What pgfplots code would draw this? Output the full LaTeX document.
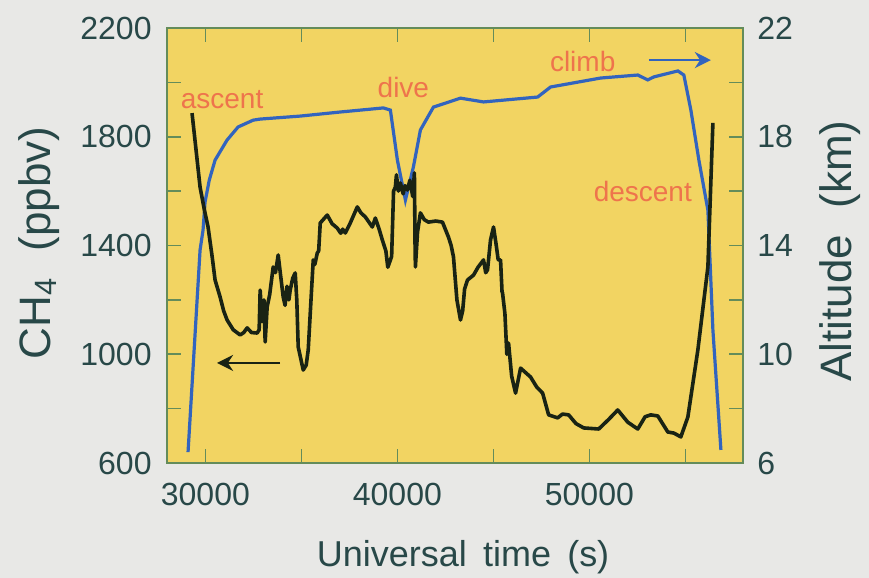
\documentclass[border=0pt]{standalone}
\usepackage{pgfplots}
\pgfplotsset{compat=1.18}
\usetikzlibrary{arrows.meta}
\usepackage{fontspec}
\setmainfont{Liberation Sans}
\definecolor{bg}{RGB}{232,232,230}
\definecolor{plotbg}{RGB}{242,212,98}
\definecolor{txt}{RGB}{40,72,72}
\definecolor{frame}{RGB}{100,140,90}
\definecolor{ann}{RGB}{238,116,76}
\definecolor{ch4}{RGB}{25,35,20}
\definecolor{alt}{RGB}{50,100,190}
\begin{document}
\begin{tikzpicture}
\path[use as bounding box, fill=bg] (-83.5pt,-57.5pt) rectangle (351pt,231.5pt);
\pgfplotsset{every axis/.append style={
  scale only axis, width=288pt, height=217.5pt,
  xmin=28000, xmax=58000,
  scaled x ticks=false, scaled y ticks=false,
  tick align=inside, major tick length=7pt,
  axis line style={frame, line width=0.8pt},
  tick style={frame, line width=0.8pt},
  tick label style={font=\fontsize{16}{16}\selectfont, text=txt},
}}
% altitude axis (drawn first, with background)
\begin{axis}[
  ymin=6, ymax=22,
  ytick={6,8,...,22}, yticklabels={6,,10,,14,,18,,22},
  ytick pos=right, yticklabel pos=right,
  xtick=\empty,
  axis background/.style={fill=plotbg},
  yticklabel style={anchor=west, inner sep=0pt, xshift=7pt},
  ylabel={Altitude\hspace{0.6em}(km)},
  every axis y label/.style={at={(axis description cs:1.189,0.487)}, anchor=base, rotate=90, font=\fontsize{22}{22}\selectfont, text=txt},
]
\addplot[alt, line width=1.6pt] coordinates {
(29096,6.4) (29400,10.0) (29722,13.83) (29878,14.57) (29982,15.60) (30200,16.4)
(30504,17.14) (31130,17.88) (31704,18.36) (32487,18.61) (32852,18.65) (34939,18.76)
(37026,18.91) (39270,19.06) (39635,18.98) (40000,17.14) (40417,15.67) (40834,16.89)
(41199,18.25) (41877,19.09) (43285,19.42) (44485,19.28) (47303,19.46) (47981,19.83)
(50590,20.16) (52520,20.27) (53042,20.09) (53355,20.20) (54607,20.42) (54920,20.27)
(55285,18.98) (55703,17.14) (56172,15.30) (56433,10.89) (56850,6.48)
};
\end{axis}
% CH4 axis
\begin{axis}[
  ymin=600, ymax=2200,
  ytick={600,800,...,2200}, yticklabels={600,,1000,,1400,,1800,,2200},
  ytick pos=left, yticklabel pos=left,
  xtick={30000,35000,...,55000}, xticklabels={30000,,40000,,50000,},
  xtick pos=both, xticklabel pos=lower,
  yticklabel style={anchor=east, inner sep=0pt, xshift=-7.5pt},
  xticklabel style={anchor=north, inner sep=0pt, yshift=-10pt},
  xlabel={Universal\hspace{0.45em}time\hspace{0.45em}(s)},
  ylabel={CH\textsubscript{4}\hspace{0.6em}(ppbv)},
  every axis x label/.style={at={(axis description cs:0.514,-0.239)}, anchor=base, font=\fontsize{18}{18}\selectfont, text=txt},
  every axis y label/.style={at={(axis description cs:-0.203,0.506)}, anchor=base, rotate=90, font=\fontsize{22}{22}\selectfont, text=txt},
]
\addplot[ch4, line width=1.8pt, line join=round] coordinates {
(29304,1887) (29500,1760) (29722,1615) (29950,1530) (30139,1468) (30350,1360)
(30504,1273) (30765,1211) (30950,1160) (31130,1126) (31450,1090) (31808,1071)
(32000,1080) (32174,1097) (32400,1080) (32695,1078) (32800,1090) (32852,1236)
(32950,1120) (33050,1200) (33113,1045) (33217,1174) (33350,1220) (33530,1321)
(33650,1300) (33791,1365) (33900,1300) (34052,1211) (34150,1180) (34250,1250)
(34350,1200) (34417,1236) (34550,1280) (34678,1299) (34760,1200) (34834,1027)
(35095,942) (35250,960) (35356,1016) (35500,1200) (35617,1347) (35700,1330)
(35826,1372) (35900,1380) (35982,1483) (36347,1512) (36600,1480) (36869,1464)
(37050,1445) (37150,1460) (37286,1446) (37547,1483) (37912,1542) (38100,1520)
(38330,1505) (38695,1468) (38851,1501) (39050,1460) (39217,1420) (39400,1380)
(39500,1320) (39582,1336) (39700,1360) (39800,1600) (39895,1615) (39950,1660)
(40050,1600) (40156,1630) (40300,1590) (40400,1620) (40521,1604) (40650,1640)
(40800,1580) (40886,1667) (40920,1400) (40938,1321) (41050,1450) (41199,1520)
(41400,1495) (41616,1486) (42000,1490) (42347,1486) (42660,1431) (42800,1400)
(42921,1358) (43100,1200) (43286,1126) (43400,1160) (43500,1240) (43651,1273)
(43964,1291) (44200,1320) (44486,1347) (44600,1300) (44694,1310) (44850,1420)
(45007,1468) (45150,1400) (45250,1347) (45373,1347) (45450,1230) (45477,1225)
(45600,1150) (45700,1000) (45790,1041) (45950,920) (46155,857) (46416,949)
(46938,916) (47250,880) (47564,857) (47877,777) (48346,766) (48600,780)
(48920,777) (49300,745) (49703,729) (50485,725) (51000,760) (51477,795)
(52000,750) (52520,725) (52900,770) (53198,777) (53563,773) (54085,714)
(54400,710) (54763,696) (55128,769) (55650,1016) (56172,1321) (56433,1851)
};
\node[text=ann, font=\fontsize{14}{14}\selectfont] at (axis cs:30869,1935) {ascent};
\node[text=ann, font=\fontsize{14}{14}\selectfont] at (axis cs:40312,1983) {dive};
\node[text=ann, font=\fontsize{14}{14}\selectfont] at (axis cs:49650,2075) {climb};
\node[text=ann, font=\fontsize{14}{14}\selectfont] at (axis cs:52781,1597) {descent};
\draw[-{Stealth[length=8pt,width=8pt]}, ch4, line width=1.4pt] (axis cs:33895,968) -- (axis cs:30608,968);
\draw[-{Stealth[length=8pt,width=8pt]}, alt, line width=1.4pt] (axis cs:53094,2082) -- (axis cs:56328,2082);
\end{axis}
\end{tikzpicture}
\end{document}
